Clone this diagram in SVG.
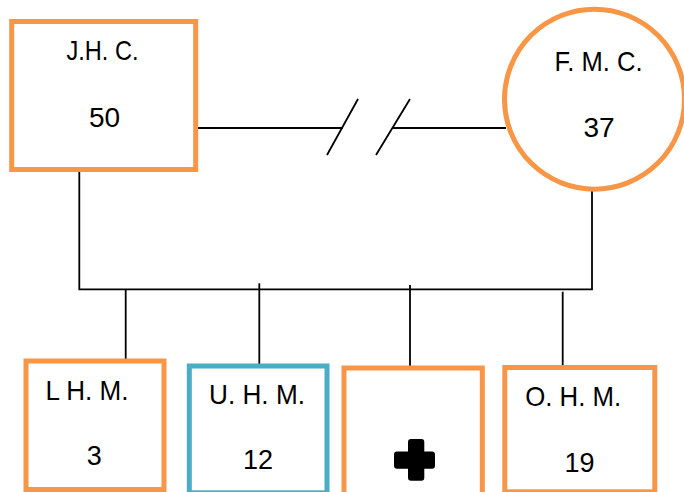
<svg xmlns="http://www.w3.org/2000/svg" width="684" height="492" viewBox="0 0 684 492">
<style>
.bg{fill:#ffffff}
.or{fill:#ffffff;stroke:#F79646;stroke-width:5}
.bl{fill:#ffffff;stroke:#4BACC6;stroke-width:5}
.ln{fill:none;stroke:#000000;stroke-width:1.8}
.t{font-family:"Liberation Sans",Arial,sans-serif;font-size:28px;fill:#000000;text-anchor:middle}
.d{font-family:"Liberation Sans",Arial,sans-serif;font-size:27px;fill:#000000;text-anchor:middle}
</style>
<rect class="bg" x="0" y="0" width="684" height="492"/>
<g id="connectors">
<line class="ln" x1="196" y1="128" x2="343" y2="128"/>
<line class="ln" x1="327" y1="155" x2="358" y2="99"/>
<line class="ln" x1="376" y1="155" x2="410" y2="99"/>
<line class="ln" x1="392" y1="128" x2="506" y2="128"/>
<polyline class="ln" points="79.3,170 79.3,289.3 592,289.3 592,182"/>
<line class="ln" x1="125.7" y1="289.3" x2="125.7" y2="359"/>
<line class="ln" x1="259.3" y1="283.3" x2="259.3" y2="369"/>
<line class="ln" x1="410" y1="285" x2="410" y2="369.5"/>
<line class="ln" x1="562.7" y1="291.7" x2="562.7" y2="368"/>
</g>
<g id="node-jhc">
<rect class="or" x="11.7" y="21.5" width="184" height="148"/>
<text class="t" x="102.5" y="60" textLength="72" lengthAdjust="spacingAndGlyphs">J.H. C.</text>
<text class="t" x="104.5" y="126.7">50</text>
</g>
<g id="node-fmc">
<circle class="or" cx="594.5" cy="99.2" r="90"/>
<text class="t" x="598.5" y="70.7" textLength="88" lengthAdjust="spacingAndGlyphs">F. M. C.</text>
<text class="t" x="599" y="136.7">37</text>
</g>
<g id="node-lhm">
<rect class="or" x="26" y="361" width="138" height="128.5"/>
<text class="t" x="87" y="400" textLength="83" lengthAdjust="spacingAndGlyphs">L H. M.</text>
<text class="d" x="94.2" y="465">3</text>
</g>
<g id="node-uhm">
<rect class="bl" x="189.3" y="366" width="137.7" height="126.8"/>
<text class="t" x="257" y="404" textLength="96" lengthAdjust="spacingAndGlyphs">U. H. M.</text>
<text class="d" x="258" y="469">12</text>
</g>
<g id="node-plus">
<rect class="or" x="344" y="368" width="138.3" height="132"/>
<rect x="408" y="439" width="16.3" height="41.7" rx="3" fill="#000000"/>
<rect x="394" y="451.5" width="41" height="17.3" rx="3" fill="#000000"/>
</g>
<g id="node-ohm">
<rect class="or" x="504.8" y="367.5" width="150" height="124.3"/>
<text class="t" x="573.2" y="405.7" textLength="96" lengthAdjust="spacingAndGlyphs">O. H. M.</text>
<text class="d" x="579.5" y="472.3">19</text>
</g>
</svg>
